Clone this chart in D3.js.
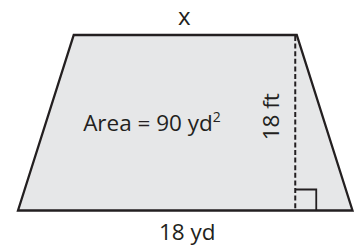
<!DOCTYPE html>
<html>
<head>
<meta charset="utf-8">
<script src="https://cdn.jsdelivr.net/npm/d3@7"></script>
<style>
  body { margin: 0; background: #fff; }
  text { font-family: "Open Sans", "Liberation Sans", sans-serif; fill: #231f20; }
</style>
</head>
<body>
<script>
// trapezoid in yards: base 18, top x = 12, height 18 ft = 6 yd
const baseYd = 18;
const topYd = 12;
const heightYd = 6;
const offsetYd = 3;
const labels = { top: "x", base: "18 yd", height: "18 ft", area: "Area = 90 yd", areaSup: "2" };

const width = 358, height = 249;

const svg = d3.select("body").append("svg")
    .attr("width", width)
    .attr("height", height);

const xScale = d3.scaleLinear().domain([0, baseYd]).range([18, 352.5]);
const yScale = d3.scaleLinear().domain([0, heightYd]).range([210.5, 35]);

const pts = [
    [0, 0],
    [baseYd, 0],
    [offsetYd + topYd, heightYd],
    [offsetYd, heightYd]
];

svg.append("path")
    .datum(pts)
    .attr("d", d3.line().x(d => xScale(d[0])).y(d => yScale(d[1])).curve(d3.curveLinearClosed))
    .attr("fill", "#e6e7e8")
    .attr("stroke", "#231f20")
    .attr("stroke-width", 2.3)
    .attr("stroke-linejoin", "miter");

// dashed height
const hx = xScale(offsetYd + topYd) - 1.5;
svg.append("line")
    .attr("x1", hx).attr("x2", hx)
    .attr("y1", yScale(heightYd) + 1).attr("y2", yScale(0))
    .attr("stroke", "#231f20")
    .attr("stroke-width", 2)
    .attr("stroke-dasharray", "5,2.6");

// right angle mark
const sq = 21;
svg.append("path")
    .attr("d", `M${hx},${yScale(0) - sq}H${hx + sq}V${yScale(0)}`)
    .attr("fill", "none")
    .attr("stroke", "#231f20")
    .attr("stroke-width", 1.8);

svg.append("text")
    .attr("x", xScale(offsetYd + topYd / 2) - 1)
    .attr("y", 25)
    .attr("text-anchor", "middle")
    .attr("font-size", 24)
    .text(labels.top);

svg.append("text")
    .attr("x", xScale(baseYd / 2) + 2)
    .attr("y", 240)
    .attr("text-anchor", "middle")
    .attr("font-size", 22.5)
    .text(labels.base);

const area = svg.append("text")
    .attr("x", 152)
    .attr("y", 131)
    .attr("text-anchor", "middle")
    .attr("font-size", 22.5)
    .text(labels.area);
area.append("tspan")
    .attr("font-size", 14)
    .attr("dy", -9)
    .text(labels.areaSup);

svg.append("text")
    .attr("transform", `translate(${hx - 16},${yScale(heightYd / 2) - 6}) rotate(-90)`)
    .attr("text-anchor", "middle")
    .attr("font-size", 22.5)
    .text(labels.height);
</script>
</body>
</html>
